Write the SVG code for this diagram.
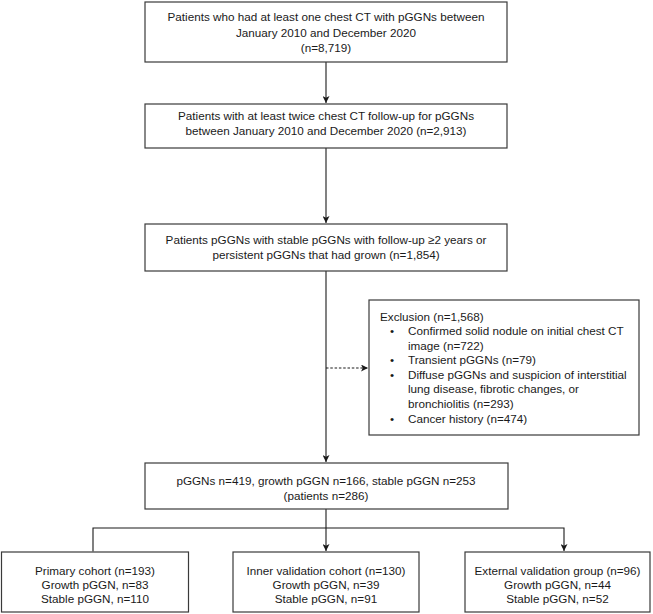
<svg xmlns="http://www.w3.org/2000/svg" width="653" height="614" viewBox="0 0 653 614">
<style>
.box{fill:#fff;stroke:#3a3a3a;stroke-width:1.2}
.t{font-family:"Liberation Sans",Arial,Helvetica,sans-serif;font-size:11.7px;fill:#1a1a1a}
.c{text-anchor:middle}
.ln{fill:none;stroke:#1a1a1a;stroke-width:1.1}
.dash{stroke-dasharray:2.5 1.8}
</style>
<defs>
<marker id="ah" viewBox="0 0 10 10" refX="10" refY="5" markerWidth="7" markerHeight="7" markerUnits="userSpaceOnUse" orient="auto">
<path d="M0,0 L10,5 L0,10 L2.5,5 Z" fill="#1a1a1a"/>
</marker>
</defs>
<rect width="653" height="614" fill="#fff"/>
<g id="connectors">
<line class="ln" x1="326" y1="62" x2="326" y2="103" marker-end="url(#ah)"/>
<line class="ln" x1="326" y1="148" x2="326" y2="223" marker-end="url(#ah)"/>
<line class="ln" x1="326" y1="271" x2="326" y2="462" marker-end="url(#ah)"/>
<line class="ln dash" x1="326" y1="368" x2="368" y2="368" marker-end="url(#ah)"/>
<line class="ln" x1="326" y1="509" x2="326" y2="551" marker-end="url(#ah)"/>
<polyline class="ln" points="93,551 93,528 564,528 564,551" marker-start="url(#ah)" marker-end="url(#ah)"/>
</g>
<g id="n1">
<rect class="box" x="145" y="2" width="362" height="60"/>
<text class="t c" x="326" y="21">Patients who had at least one chest CT with pGGNs between</text>
<text class="t c" x="326" y="37">January 2010 and December 2020</text>
<text class="t c" x="326" y="52">(n=8,719)</text>
</g>
<g id="n2">
<rect class="box" x="145" y="104" width="362" height="44"/>
<text class="t c" x="326" y="120">Patients with at least twice chest CT follow-up for pGGNs</text>
<text class="t c" x="326" y="135">between January 2010 and December 2020 (n=2,913)</text>
</g>
<g id="n3">
<rect class="box" x="145" y="224" width="362" height="47"/>
<text class="t c" x="326" y="244">Patients pGGNs with stable pGGNs with follow-up ≥2 years or</text>
<text class="t c" x="326" y="259">persistent pGGNs that had grown (n=1,854)</text>
</g>
<g id="exclusion">
<rect class="box" x="369" y="300" width="270" height="135"/>
<text class="t" x="380" y="321">Exclusion (n=1,568)</text>
<g class="t">
<text x="390" y="335">•</text><text x="408" y="335">Confirmed solid nodule on initial chest CT</text>
<text x="408" y="350">image (n=722)</text>
<text x="390" y="364">•</text><text x="408" y="364">Transient pGGNs (n=79)</text>
<text x="390" y="379">•</text><text x="408" y="379">Diffuse pGGNs and suspicion of interstitial</text>
<text x="408" y="393">lung disease, fibrotic changes, or</text>
<text x="408" y="408">bronchiolitis (n=293)</text>
<text x="390" y="423">•</text><text x="408" y="423">Cancer history (n=474)</text>
</g>
</g>
<g id="n4">
<rect class="box" x="145" y="463" width="363" height="46"/>
<text class="t c" x="326" y="485">pGGNs n=419, growth pGGN n=166, stable pGGN n=253</text>
<text class="t c" x="326" y="500">(patients n=286)</text>
</g>
<g id="primary">
<rect class="box" x="1.5" y="552" width="187" height="60"/>
<text class="t c" x="95" y="575">Primary cohort (n=193)</text>
<text class="t c" x="95" y="589">Growth pGGN, n=83</text>
<text class="t c" x="95" y="603">Stable pGGN, n=110</text>
</g>
<g id="inner">
<rect class="box" x="233" y="552" width="186" height="60"/>
<text class="t c" x="326" y="575">Inner validation cohort (n=130)</text>
<text class="t c" x="326" y="589">Growth pGGN, n=39</text>
<text class="t c" x="326" y="603">Stable pGGN, n=91</text>
</g>
<g id="external">
<rect class="box" x="465" y="552" width="185" height="60"/>
<text class="t c" x="557.5" y="575">External validation group (n=96)</text>
<text class="t c" x="557.5" y="589">Growth pGGN, n=44</text>
<text class="t c" x="557.5" y="603">Stable pGGN, n=52</text>
</g>
</svg>
